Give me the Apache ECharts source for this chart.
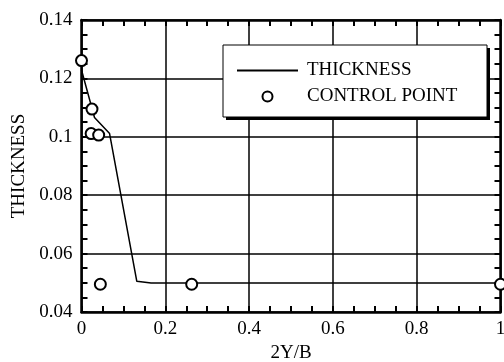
<!DOCTYPE html>
<html><head><meta charset="utf-8">
<script src="https://cdn.jsdelivr.net/npm/echarts@6/dist/echarts.min.js"></script>
<style>html,body{margin:0;padding:0;background:#fff}#c{width:504px;height:362px}</style>
</head><body><div id="c"></div>
<script>
var thicknessX = [0.0, 0.031, 0.067, 0.132, 0.166, 1.0];
var thicknessY = [0.1229, 0.1066, 0.1011, 0.0505, 0.0499, 0.0499];
var controlX = [0.0, 0.025, 0.023, 0.041, 0.045, 0.263, 1.0];
var controlY = [0.1261, 0.1095, 0.1011, 0.1006, 0.0495, 0.0495, 0.0495];
var xTicks = [0, 0.2, 0.4, 0.6, 0.8, 1];
var yTicks = [0.04, 0.06, 0.08, 0.1, 0.12, 0.14];

var F = 'Liberation Serif';
var FS = 19;
var chart = echarts.init(document.getElementById('c'), null, {renderer: 'canvas'});
var thickness = thicknessX.map(function (x, i) { return [x, thicknessY[i]]; });
var control = controlX.map(function (x, i) { return [x, controlY[i]]; });

function axisCommon(showLabel) {
  return {
    axisLine: {show: true, onZero: false, lineStyle: {color: '#000', width: 2.5}},
    axisTick: {show: true, inside: true, length: 6, lineStyle: {color: '#000', width: 2}},
    minorTick: {show: true, splitNumber: 4, length: 6, lineStyle: {color: '#000', width: 2}},
    axisLabel: {show: showLabel, color: '#000', fontFamily: F, fontSize: FS},
    splitLine: {show: false}
  };
}

var option = {
  animation: false,
  backgroundColor: '#fff',
  grid: {left: 81.5, top: 20, width: 419, height: 292, containLabel: false, outerBoundsMode: 'none'},
  xAxis: [
    Object.assign(axisCommon(true), {
      type: 'value', position: 'bottom', min: xTicks[0], max: xTicks[xTicks.length - 1], interval: 0.2,
      name: '2Y/B', nameLocation: 'middle', nameGap: 29,
      nameTextStyle: {color: '#000', fontFamily: F, fontSize: FS},
      axisLabel: {show: true, color: '#000', fontFamily: F, fontSize: FS, margin: 8},
      splitLine: {show: true, lineStyle: {color: '#000', width: 1.5}}
    }),
    Object.assign(axisCommon(false), {
      type: 'value', position: 'top', min: xTicks[0], max: xTicks[xTicks.length - 1], interval: 0.2
    })
  ],
  yAxis: [
    Object.assign(axisCommon(true), {
      type: 'value', position: 'left', min: yTicks[0], max: yTicks[yTicks.length - 1], interval: 0.02,
      name: 'THICKNESS', nameLocation: 'middle', nameGap: 49, nameRotate: 90,
      nameTextStyle: {color: '#000', fontFamily: F, fontSize: FS},
      axisLabel: {show: true, color: '#000', fontFamily: F, fontSize: FS, margin: 9},
      splitLine: {show: true, lineStyle: {color: '#000', width: 1.5}}
    }),
    Object.assign(axisCommon(false), {
      type: 'value', position: 'right', min: yTicks[0], max: yTicks[yTicks.length - 1], interval: 0.02
    })
  ],
  legend: {
    orient: 'vertical', left: 231, top: 56, itemWidth: 61, itemHeight: 10, itemGap: 7,
    textStyle: {color: '#000', fontFamily: F, fontSize: FS, padding: [0, 0, 0, 4]},
    data: [
      {name: 'THICKNESS', itemStyle: {opacity: 0}},
      {name: 'CONTROL POINT'}
    ],
    z: 10
  },
  graphic: [
    {type: 'rect', shape: {x: 226, y: 48, width: 264, height: 72}, style: {fill: '#000'}, z: 5},
    {type: 'rect', shape: {x: 223, y: 45, width: 264, height: 72}, style: {fill: '#fff', stroke: '#000', lineWidth: 1}, z: 6}
  ],
  series: [
    {
      name: 'THICKNESS', type: 'line', data: thickness, symbol: 'none',
      lineStyle: {color: '#000', width: 1.5}, itemStyle: {color: '#000'}, z: 3
    },
    {
      name: 'CONTROL POINT', type: 'scatter', data: control, symbol: 'emptyCircle', symbolSize: 11,
      itemStyle: {color: '#000', borderColor: '#000', borderWidth: 1.5, opacity: 1}, z: 4
    }
  ]
};
chart.setOption(option);
</script></body></html>
